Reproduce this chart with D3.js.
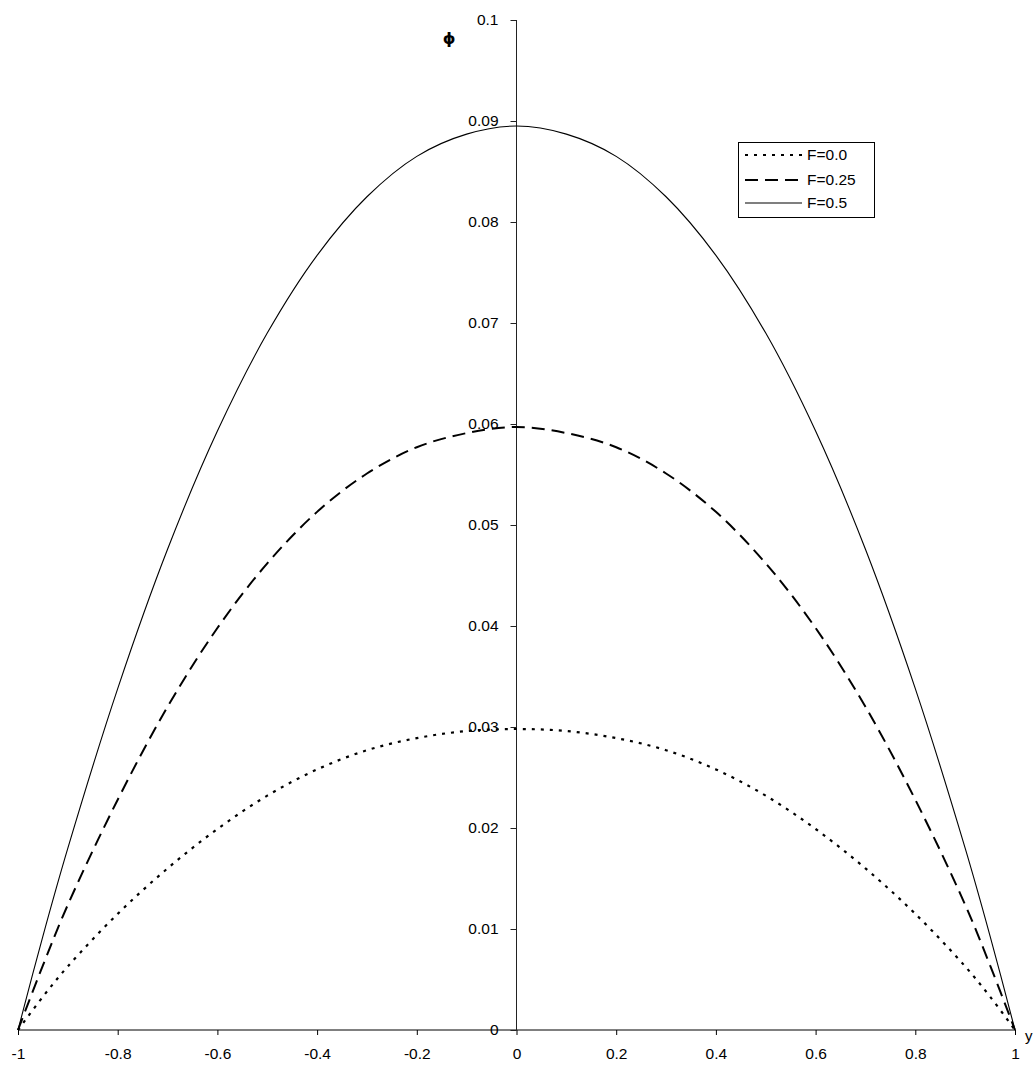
<!DOCTYPE html>
<html>
<head>
<meta charset="utf-8">
<script src="https://cdn.jsdelivr.net/npm/d3@7"></script>
<style>
  html, body { margin: 0; padding: 0; background: #fff; }
  svg { display: block; }
  text { font-family: "Liberation Sans", Arial, sans-serif; fill: #000; }
</style>
</head>
<body>
<svg id="chart" width="1034" height="1066"></svg>
<script>
// ---- data ----
const yPositions = [-1, -0.95, -0.9, -0.8, -0.7, -0.6, -0.5, -0.4, -0.3, -0.2, -0.1, 0,
                    0.1, 0.2, 0.3, 0.4, 0.5, 0.6, 0.7, 0.8, 0.9, 0.95, 1];
const phiF000 = [0, 0.0033, 0.0063, 0.0115, 0.0160, 0.0199, 0.0232, 0.0258, 0.0277, 0.0289, 0.0296, 0.0298,
                 0.0296, 0.0289, 0.0277, 0.0258, 0.0232, 0.0199, 0.0160, 0.0115, 0.0063, 0.0033, 0];
const phiF025 = [0, 0.0064, 0.0124, 0.0228, 0.0320, 0.0398, 0.0462, 0.0513, 0.0551, 0.0577, 0.0591, 0.0597,
                 0.0591, 0.0577, 0.0551, 0.0513, 0.0462, 0.0398, 0.0320, 0.0228, 0.0124, 0.0064, 0];
const phiF050 = [0, 0.0093, 0.0180, 0.0338, 0.0476, 0.0593, 0.0690, 0.0767, 0.0825, 0.0865, 0.0887, 0.0895,
                 0.0887, 0.0865, 0.0825, 0.0767, 0.0690, 0.0593, 0.0476, 0.0338, 0.0180, 0.0093, 0];
const seriesNames = ["F=0.0", "F=0.25", "F=0.5"];
const xTicks = [-1, -0.8, -0.6, -0.4, -0.2, 0, 0.2, 0.4, 0.6, 0.8, 1];
const yTicks = [0, 0.01, 0.02, 0.03, 0.04, 0.05, 0.06, 0.07, 0.08, 0.09, 0.1];

const styles = [
  { dash: "3,6", width: 2.2 },
  { dash: "13,7", width: 2 },
  { dash: null, width: 1.1 }
];

const svg = d3.select("#chart");
const x = d3.scaleLinear().domain([-1, 1]).range([18, 1015]);
const y = d3.scaleLinear().domain([0, 0.1]).range([1030, 20]);

// x axis at y=0
const xAxis = d3.axisBottom(x).tickValues(xTicks).tickSize(5).tickPadding(13)
  .tickFormat(d => d === 0 ? "0" : String(d));
const gx = svg.append("g").attr("transform", `translate(0,${y(0)})`).call(xAxis);
gx.select(".domain").attr("stroke", "#000").attr("d", `M${x(-1)},0H${x(1)}`);
gx.selectAll(".tick line").attr("stroke", "#000");
gx.selectAll("text").style("font-size", "15.5px").attr("fill", "#000");

// y axis at x=0
const yAxis = d3.axisLeft(y).tickValues(yTicks).tickSize(6).tickPadding(12)
  .tickFormat(d => d === 0 ? "0" : String(+d.toFixed(2)));
const gy = svg.append("g").attr("transform", `translate(${x(0)},0)`).call(yAxis);
gy.select(".domain").attr("stroke", "#222").attr("d", `M0,${y(0)}V${y(0.1)}`);
gy.selectAll(".tick line").attr("stroke", "#222");
gy.selectAll("text").style("font-size", "15.5px").attr("fill", "#000");

// curves
const allSeries = [phiF000, phiF025, phiF050];
const line = d3.line().x(d => x(d[0])).y(d => y(d[1])).curve(d3.curveCatmullRom.alpha(0.5));
allSeries.forEach((vals, i) => {
  const pts = yPositions.map((p, j) => [p, vals[j]]);
  const path = svg.append("path").datum(pts)
    .attr("fill", "none").attr("stroke", "#000")
    .attr("stroke-width", styles[i].width)
    .attr("d", line);
  if (styles[i].dash) path.attr("stroke-dasharray", styles[i].dash);
});

// axis titles
svg.append("text").attr("x", 449).attr("y", 44).attr("text-anchor", "middle")
  .style("font-family", "'DejaVu Sans', sans-serif")
  .style("font-size", "16px").style("font-weight", "bold").text("ϕ");
svg.append("text").attr("x", 1025).attr("y", 1041)
  .style("font-size", "15px").text("y");

// legend
const lg = svg.append("g");
lg.append("rect").attr("x", 738.5).attr("y", 142.5).attr("width", 136).attr("height", 75)
  .attr("fill", "#fff").attr("stroke", "#000").attr("stroke-width", 1);
const rowY = [155, 180, 203];
seriesNames.forEach((name, i) => {
  const l = lg.append("line").attr("x1", 745).attr("x2", 802).attr("y1", rowY[i]).attr("y2", rowY[i])
    .attr("stroke", "#000").attr("stroke-width", styles[i].width);
  if (styles[i].dash) l.attr("stroke-dasharray", styles[i].dash);
  lg.append("text").attr("x", 807).attr("y", rowY[i]).attr("dy", "0.35em")
    .style("font-size", "15.5px").text(name);
});
</script>
</body>
</html>
